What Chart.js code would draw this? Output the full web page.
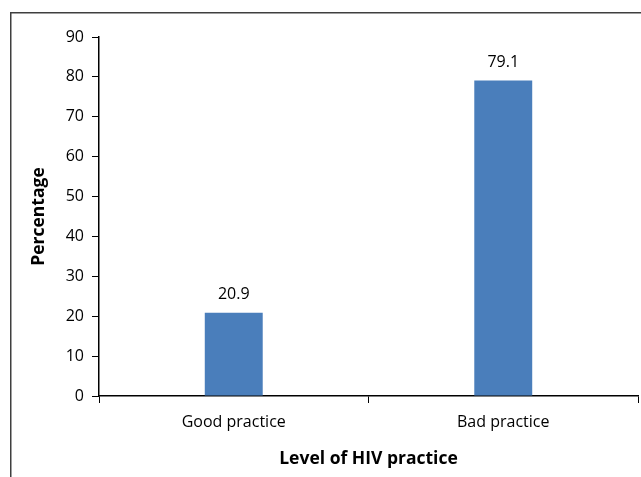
<!DOCTYPE html>
<html>
<head>
<meta charset="utf-8">
<script src="https://cdn.jsdelivr.net/npm/chart.js@4.4.1/dist/chart.umd.min.js"></script>
<style>
  html, body { margin: 0; padding: 0; background: #fff; }
  #wrap { width: 641px; height: 477px; position: relative; }
</style>
</head>
<body>
<div id="wrap"><canvas id="c" width="641" height="477"></canvas></div>
<script>
const categories = ["Good practice", "Bad practice"];
const percentages = [20.9, 79.1];
const yTicks = [0, 10, 20, 30, 40, 50, 60, 70, 80, 90];

const FONT = "'Open Sans', sans-serif";
const AXIS = "#000000";

// Outer chart frame (top and left edges, continuing off the canvas)
const framePlugin = {
  id: "frame",
  beforeDraw(chart) {
    const ctx = chart.ctx;
    ctx.save();
    ctx.strokeStyle = "#3f3f3f";
    ctx.lineWidth = 1.5;
    ctx.strokeRect(10.75, 12.75, 700, 600);
    ctx.restore();
  }
};

// Value labels above each bar
const valueLabels = {
  id: "valueLabels",
  afterDatasetsDraw(chart) {
    const ctx = chart.ctx;
    const meta = chart.getDatasetMeta(0);
    ctx.save();
    ctx.fillStyle = "#000";
    ctx.font = "16px " + FONT;
    ctx.textAlign = "center";
    ctx.textBaseline = "middle";
    meta.data.forEach((bar, i) => {
      ctx.fillText(String(percentages[i]), bar.x, bar.y - 18);
    });
    ctx.restore();
  }
};

new Chart(document.getElementById("c"), {
  type: "bar",
  data: {
    labels: categories,
    datasets: [{
      data: percentages,
      backgroundColor: "#4a7ebb",
      borderWidth: 0,
      categoryPercentage: 1,
      barPercentage: 0.215
    }]
  },
  options: {
    responsive: false,
    animation: false,
    events: [],
    layout: { padding: { left: 29, right: 3, top: 37, bottom: 0 } },
    plugins: { legend: { display: false }, tooltip: { enabled: false } },
    scales: {
      x: {
        offset: true,
        grid: {
          offset: true,
          drawOnChartArea: false,
          drawTicks: true,
          tickLength: 7,
          color: AXIS,
          lineWidth: 1
        },
        border: { display: true, color: AXIS, width: 1.5 },
        ticks: { color: "#000", font: { family: FONT, size: 16 }, padding: 10 },
        title: {
          display: true,
          text: "Level of HIV practice",
          color: "#000",
          font: { family: FONT, size: 17.5, weight: "bold" },
          padding: { top: 4, bottom: 7 }
        },
        afterFit(scale) { scale.height = 81; }
      },
      y: {
        min: 0,
        max: 90,
        afterBuildTicks(scale) { scale.ticks = yTicks.map(v => ({ value: v })); },
        grid: {
          drawOnChartArea: false,
          drawTicks: true,
          tickLength: 7,
          color: AXIS,
          lineWidth: 1
        },
        border: { display: true, color: AXIS, width: 1.5 },
        ticks: { color: "#000", font: { family: FONT, size: 16 }, padding: 8 },
        title: {
          display: true,
          text: "Percentage",
          color: "#000",
          font: { family: FONT, size: 17.5, weight: "bold" },
          padding: { top: 0, bottom: 8 }
        },
        afterFit(scale) { scale.width = 70; }
      }
    }
  },
  plugins: [framePlugin, valueLabels]
});
</script>
</body>
</html>
